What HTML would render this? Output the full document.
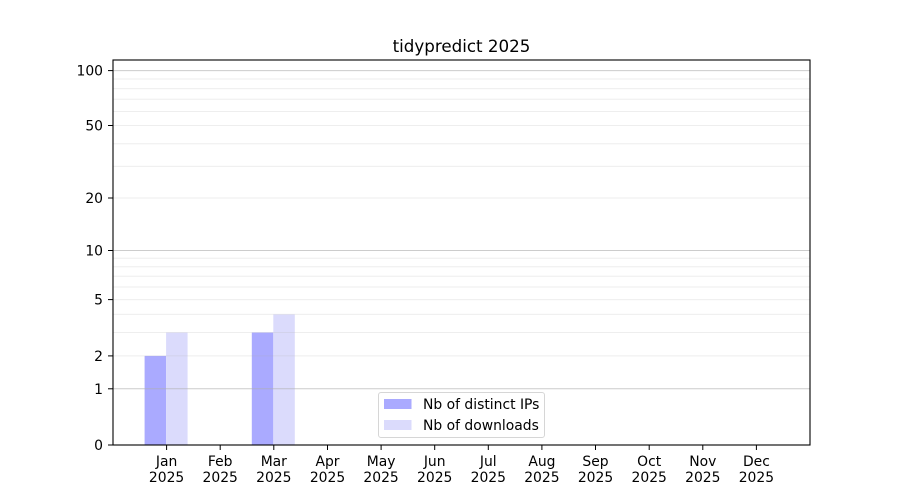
<!DOCTYPE html>
<html><head><meta charset="utf-8"><style>
html,body{margin:0;padding:0;background:#fff;}
svg{display:block;font-family:"DejaVu Sans","Liberation Sans",sans-serif;}
</style></head><body>
<svg width="900" height="500" viewBox="0 0 900 500" xmlns="http://www.w3.org/2000/svg">
<rect width="900" height="500" fill="#fff"/>
<!-- bars -->
<rect x="144.6" y="355.9" width="21.5" height="89.1" fill="#aaaaff"/>
<rect x="166.1" y="332.5" width="21.5" height="112.5" fill="#dbdbfc"/>
<rect x="251.8" y="332.5" width="21.5" height="112.5" fill="#aaaaff"/>
<rect x="273.3" y="314.4" width="21.5" height="130.6" fill="#dbdbfc"/>
<!-- minor grid -->
<g stroke="rgba(176,176,176,0.22)" stroke-width="1">
<line x1="113" x2="810" y1="355.9" y2="355.9"/>
<line x1="113" x2="810" y1="332.5" y2="332.5"/>
<line x1="113" x2="810" y1="314.4" y2="314.4"/>
<line x1="113" x2="810" y1="299.6" y2="299.6"/>
<line x1="113" x2="810" y1="287.0" y2="287.0"/>
<line x1="113" x2="810" y1="276.3" y2="276.3"/>
<line x1="113" x2="810" y1="266.7" y2="266.7"/>
<line x1="113" x2="810" y1="258.2" y2="258.2"/>
<line x1="113" x2="810" y1="198.0" y2="198.0"/>
<line x1="113" x2="810" y1="166.4" y2="166.4"/>
<line x1="113" x2="810" y1="143.7" y2="143.7"/>
<line x1="113" x2="810" y1="125.5" y2="125.5"/>
<line x1="113" x2="810" y1="111.5" y2="111.5"/>
<line x1="113" x2="810" y1="99.2" y2="99.2"/>
<line x1="113" x2="810" y1="88.6" y2="88.6"/>
<line x1="113" x2="810" y1="79.0" y2="79.0"/>
</g>
<!-- major grid -->
<g stroke="rgba(176,176,176,0.65)" stroke-width="1">
<line x1="113" x2="810" y1="388.8" y2="388.8"/>
<line x1="113" x2="810" y1="250.5" y2="250.5"/>
<line x1="113" x2="810" y1="70.6" y2="70.6"/>
</g>
<!-- axes frame -->
<rect x="113" y="60" width="697" height="385" fill="none" stroke="#000" stroke-width="1.1"/>
<!-- y ticks -->
<g stroke="#000" stroke-width="1">
<line x1="108" x2="113" y1="445" y2="445"/>
<line x1="108" x2="113" y1="388.8" y2="388.8"/>
<line x1="108" x2="113" y1="355.9" y2="355.9"/>
<line x1="108" x2="113" y1="299.6" y2="299.6"/>
<line x1="108" x2="113" y1="250.5" y2="250.5"/>
<line x1="108" x2="113" y1="198.0" y2="198.0"/>
<line x1="108" x2="113" y1="125.5" y2="125.5"/>
<line x1="108" x2="113" y1="70.6" y2="70.6"/>
</g>
<g font-size="13.9" text-anchor="end" fill="#000">
<text x="103" y="450">0</text>
<text x="103" y="393.8">1</text>
<text x="103" y="360.9">2</text>
<text x="103" y="304.6">5</text>
<text x="103" y="255.5">10</text>
<text x="103" y="203">20</text>
<text x="103" y="130.5">50</text>
<text x="103" y="75.6">100</text>
</g>
<!-- x ticks -->
<g stroke="#000" stroke-width="1">
<line x1="166.6" x2="166.6" y1="445" y2="450"/>
<line x1="220.2" x2="220.2" y1="445" y2="450"/>
<line x1="273.8" x2="273.8" y1="445" y2="450"/>
<line x1="327.5" x2="327.5" y1="445" y2="450"/>
<line x1="381.1" x2="381.1" y1="445" y2="450"/>
<line x1="434.7" x2="434.7" y1="445" y2="450"/>
<line x1="488.3" x2="488.3" y1="445" y2="450"/>
<line x1="541.9" x2="541.9" y1="445" y2="450"/>
<line x1="595.5" x2="595.5" y1="445" y2="450"/>
<line x1="649.2" x2="649.2" y1="445" y2="450"/>
<line x1="702.8" x2="702.8" y1="445" y2="450"/>
<line x1="756.4" x2="756.4" y1="445" y2="450"/>
</g>
<g font-size="13.9" text-anchor="middle" fill="#000">
<text x="166.6" y="466">Jan</text><text x="166.6" y="482">2025</text>
<text x="220.2" y="466">Feb</text><text x="220.2" y="482">2025</text>
<text x="273.8" y="466">Mar</text><text x="273.8" y="482">2025</text>
<text x="327.5" y="466">Apr</text><text x="327.5" y="482">2025</text>
<text x="381.1" y="466">May</text><text x="381.1" y="482">2025</text>
<text x="434.7" y="466">Jun</text><text x="434.7" y="482">2025</text>
<text x="488.3" y="466">Jul</text><text x="488.3" y="482">2025</text>
<text x="541.9" y="466">Aug</text><text x="541.9" y="482">2025</text>
<text x="595.5" y="466">Sep</text><text x="595.5" y="482">2025</text>
<text x="649.2" y="466">Oct</text><text x="649.2" y="482">2025</text>
<text x="702.8" y="466">Nov</text><text x="702.8" y="482">2025</text>
<text x="756.4" y="466">Dec</text><text x="756.4" y="482">2025</text>
</g>
<!-- title -->
<text x="461.5" y="52" font-size="16.7" text-anchor="middle" fill="#000">tidypredict 2025</text>
<!-- legend -->
<rect x="378.5" y="392.5" width="166" height="45" rx="2.5" fill="rgba(255,255,255,0.8)" stroke="#d6d6d6" stroke-width="1"/>
<rect x="384" y="399" width="27.5" height="10" fill="#aaaaff"/>
<rect x="384" y="420" width="27.5" height="10" fill="#dbdbfc"/>
<g font-size="13.9" fill="#000">
<text x="423" y="409">Nb of distinct IPs</text>
<text x="423" y="430">Nb of downloads</text>
</g>
</svg>
</body></html>
